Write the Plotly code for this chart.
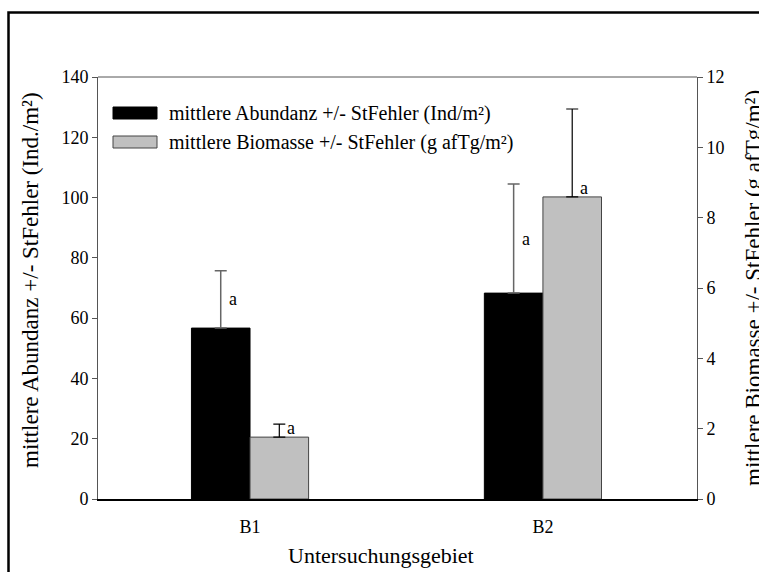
import plotly.graph_objects as go

# ---- data ----
gebiete = ["B1", "B2"]
abundanz_mean = [56.7, 68.3]
abundanz_se = [19.0, 36.2]
biomasse_mean = [1.76, 8.59]
biomasse_se = [0.37, 2.50]
sig_abundanz = ["a", "a"]
sig_biomasse = ["a", "a"]

name_abund = "mittlere Abundanz +/- StFehler (Ind/m²)"
name_bio = "mittlere Biomasse +/- StFehler (g afTg/m²)"
ytitle_left = "mittlere Abundanz +/- StFehler (Ind./m²)"
ytitle_right = "mittlere Biomasse +/- StFehler (g afTg/m²)"
xtitle = "Untersuchungsgebiet"

FONT = "Liberation Serif, Times New Roman, serif"
BLACK = "#000000"
GRAY = "#c0c0c0"
AXGRAY = "#555555"

W, H = 759, 572
L, R, T, B = 98, 62, 77, 73
pw, ph = W - L - R, H - T - B

def px(xp):
    # window pixel -> paper x
    return (xp - L) / pw

def py(yp):
    # window pixel -> paper y
    return (H - B - yp) / ph

bw = 0.2
ppu = pw / 2.045  # pixels per category unit

fig = go.Figure()
fig.add_trace(go.Bar(
    x=gebiete, y=abundanz_mean, name=name_abund,
    width=bw, offset=-bw,
    marker=dict(color=BLACK, line=dict(color=BLACK, width=1)),
    error_y=dict(type="data", array=abundanz_se, arrayminus=[0] * len(gebiete),
                 symmetric=False, color="#666666", thickness=1.5, width=6),
    showlegend=False, yaxis="y",
))
fig.add_trace(go.Bar(
    x=gebiete, y=biomasse_mean, name=name_bio,
    width=bw, offset=0,
    marker=dict(color=GRAY, line=dict(color="#444444", width=1)),
    error_y=dict(type="data", array=biomasse_se, arrayminus=[0] * len(gebiete),
                 symmetric=False, color=BLACK, thickness=1.2, width=6),
    showlegend=False, yaxis="y2",
))

annotations = []
for g, m, s, t in zip(gebiete, abundanz_mean, abundanz_se, sig_abundanz):
    annotations.append(dict(x=g, y=m + s * 0.5, xref="x", yref="y", text=t,
                            showarrow=False, xshift=-bw * ppu / 2 + 12,
                            xanchor="center", yanchor="middle",
                            font=dict(family=FONT, size=18, color="black")))
for g, m, s, t in zip(gebiete, biomasse_mean, biomasse_se, sig_biomasse):
    annotations.append(dict(x=g, y=m, xref="x", yref="y2", text=t,
                            showarrow=False, xanchor="center", yanchor="bottom",
                            yshift=-3, xshift=bw * ppu / 2 + 12,
                            font=dict(family=FONT, size=18, color="black")))

# axis titles
annotations.append(dict(x=px(381), y=py(555), xref="paper", yref="paper",
                        text=xtitle, showarrow=False, xanchor="center", yanchor="middle",
                        font=dict(family=FONT, size=22, color="black")))
annotations.append(dict(x=px(30), y=py(280), xref="paper", yref="paper",
                        text=ytitle_left, showarrow=False, textangle=-90,
                        xanchor="center", yanchor="middle",
                        font=dict(family=FONT, size=23, color="black")))
annotations.append(dict(x=px(753), y=py(288), xref="paper", yref="paper",
                        text=ytitle_right, showarrow=False, textangle=-90,
                        xanchor="center", yanchor="middle",
                        font=dict(family=FONT, size=23, color="black")))

# legend (drawn)
leg_items = [(name_abund, BLACK, BLACK, 113), (name_bio, GRAY, "#444444", 142)]
shapes = []
for txt, fill, line, yc in leg_items:
    shapes.append(dict(type="rect", xref="paper", yref="paper",
                       x0=px(113), x1=px(157), y0=py(yc - 6), y1=py(yc + 6),
                       fillcolor=fill, line=dict(color=line, width=1)))
    annotations.append(dict(x=px(167), y=py(yc), xref="paper", yref="paper",
                            text=txt, showarrow=False, xanchor="left", yanchor="middle",
                            font=dict(family=FONT, size=20, color="black")))

# top frame line of plot area
shapes.append(dict(type="line", xref="paper", yref="paper", x0=0, x1=1, y0=1, y1=1,
                   line=dict(color=AXGRAY, width=1)))
# outer border frame
shapes.append(dict(type="rect", xref="paper", yref="paper",
                   x0=px(8.5), x1=px(800), y0=py(700), y1=py(12.5),
                   line=dict(color="black", width=2.5), fillcolor="rgba(0,0,0,0)"))

fig.update_layout(
    width=W, height=H,
    margin=dict(l=L, r=R, t=T, b=B, pad=0),
    paper_bgcolor="white", plot_bgcolor="white",
    font=dict(family=FONT, size=17, color="black"),
    xaxis=dict(range=[-0.519, 1.526], showline=True, linecolor="black", linewidth=2,
               ticks="", showgrid=False, zeroline=False, ticklabelstandoff=10,
               tickfont=dict(family=FONT, size=18)),
    yaxis=dict(range=[0, 140], dtick=20, showline=True, linecolor=AXGRAY, linewidth=1,
               ticks="outside", ticklen=5, tickcolor=AXGRAY, showgrid=False,
               zeroline=False, tickfont=dict(family=FONT, size=18)),
    yaxis2=dict(range=[0, 12], dtick=2, overlaying="y", side="right", showline=True,
                linecolor=AXGRAY, linewidth=1, ticks="outside", ticklen=5,
                tickcolor=AXGRAY, showgrid=False, zeroline=False,
                tickfont=dict(family=FONT, size=18)),
    annotations=annotations,
    shapes=shapes,
    showlegend=False,
)

fig.write_html(
    "out.html",
    config={"displayModeBar": False},
    post_script="document.body.style.margin='0';document.body.style.overflow='hidden';",
)
